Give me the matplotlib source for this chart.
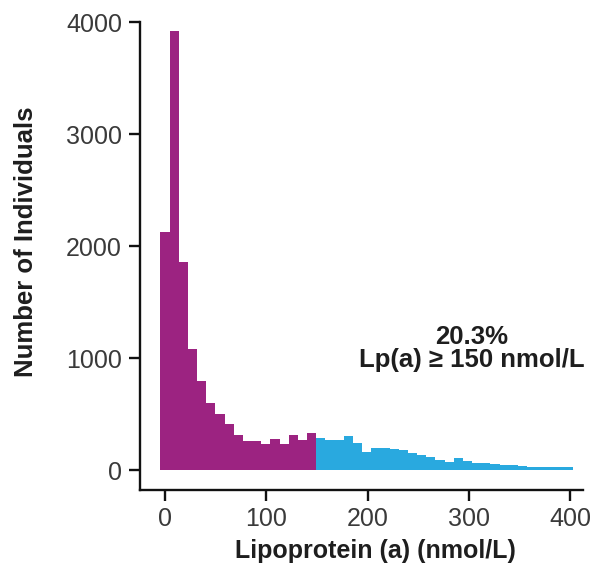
import matplotlib
matplotlib.use("Agg")
import matplotlib.pyplot as plt
import numpy as np

# Histogram counts (bin width ~9 nmol/L)
purple_counts = [2125, 3922, 1860, 1078, 795, 598, 500, 411, 312, 262,
                 262, 232, 277, 232, 312, 270, 335]
blue_counts = [283, 268, 268, 304, 241, 164, 199, 199, 188, 182,
               156, 137, 113, 90, 74, 107, 83, 65, 65, 55,
               45, 45, 40, 30, 30, 30, 28, 28]
x_ticks = [0, 100, 200, 300, 400]
y_ticks = [0, 1000, 2000, 3000, 4000]
annot_line1 = "20.3%"
annot_line2 = "Lp(a) \u2265 150 nmol/L"
xlabel = "Lipoprotein (a) (nmol/L)"
ylabel = "Number of Individuals"

bin_start = -4.5
bin_width = 9.05

purple = "#9C2381"
blue = "#29A9DF"

plt.rcParams['font.family'] = ['Liberation Sans', 'DejaVu Sans']

fig = plt.figure(figsize=(5.98, 5.74), dpi=100)
ax = fig.add_axes([140/598, 84/574, 443/598, 468/574])

n_p = len(purple_counts)
edges_p = bin_start + bin_width * np.arange(n_p)
edges_b = bin_start + bin_width * (n_p + np.arange(len(blue_counts)))
ax.bar(edges_p, purple_counts, width=bin_width, align='edge',
       color=purple, linewidth=0)
ax.bar(edges_b, blue_counts, width=bin_width, align='edge',
       color=blue, linewidth=0)

ax.set_xlim(-24.7, 412.8)
ax.set_ylim(-178, 4000)
ax.set_xticks(x_ticks)
ax.set_yticks(y_ticks)
ax.set_xticklabels([str(t) for t in x_ticks])
ax.set_yticklabels([str(t) for t in y_ticks])

for s in ['top', 'right']:
    ax.spines[s].set_visible(False)
for s in ['left', 'bottom']:
    ax.spines[s].set_linewidth(1.7)
    ax.spines[s].set_color('#111111')

ax.tick_params(axis='both', direction='out', length=8, width=1.7,
               color='#111111', labelsize=18, labelcolor='#3a3a3a')
ax.tick_params(axis='y', pad=5)
ax.tick_params(axis='x', pad=4)

ax.set_xlabel(xlabel, fontsize=18, fontweight='bold', color='#1e1e1e')
ax.xaxis.set_label_coords((375 - 140) / 443, -(539 - 490) / 468)
ax.set_ylabel(ylabel, fontsize=18.5, fontweight='bold', color='#1e1e1e')
ax.yaxis.set_label_coords(-(140 - 38) / 443, (470 - 242) / 468 + 20 / 468)

ax.text(303, 1188, annot_line1, ha='center', va='center', fontsize=18.5,
        fontweight='bold', color='#1e1e1e')
ax.text(303, 985, annot_line2, ha='center', va='center', fontsize=18.5,
        fontweight='bold', color='#1e1e1e')

fig.savefig("out.png", dpi=100)
